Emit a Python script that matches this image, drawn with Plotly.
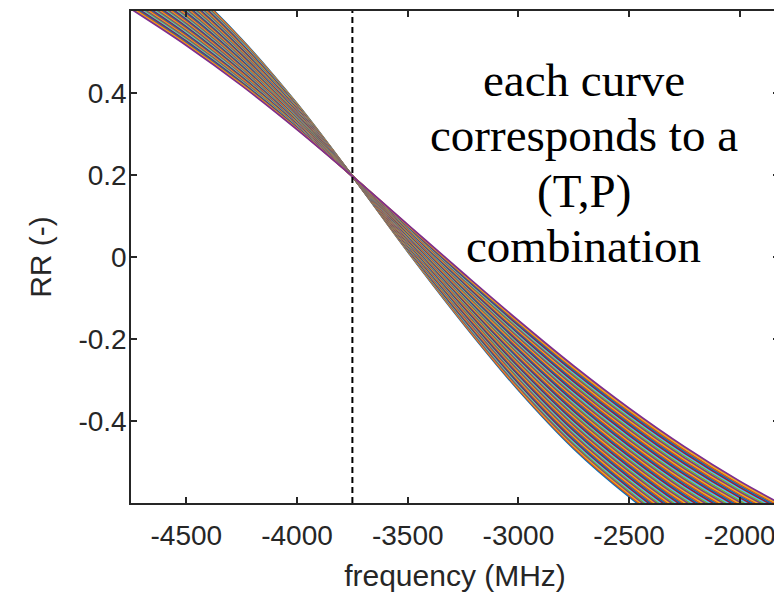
import plotly.graph_objects as go

# ---- data ----
FREQ_MHZ = [-4750, -4500, -4250, -4000, -3750, -3500, -3250, -3000, -2750, -2500, -2250, -2000, -1825]
# steepest curve of the family (upper-left / lower-right edge of the band)
RR_STEEPEST = [0.770, 0.664, 0.531, 0.374, 0.197, 0.013, -0.162, -0.325, -0.468, -0.585, -0.685, -0.760, -0.800]
# shallowest curve of the family (lower-left / upper-right edge of the band)
RR_SHALLOWEST = [0.605, 0.516, 0.418, 0.311, 0.197, 0.079, -0.039, -0.155, -0.266, -0.369, -0.463, -0.547, -0.599]
N_CURVES = 60
MARKER_FREQ = -3750
X_TICKS = [-4500, -4000, -3500, -3000, -2500, -2000]
X_TICK_TEXT = ["-4500", "-4000", "-3500", "-3000", "-2500", "-2000"]
Y_TICKS = [-0.4, -0.2, 0, 0.2, 0.4]
Y_TICK_TEXT = ["-0.4", "-0.2", "0", "0.2", "0.4"]
X_RANGE = [-4750, -1823]
Y_RANGE = [-0.6, 0.6]
NOTE_LINES = ["each curve", "corresponds to a", "(T,P)", "combination"]

MATLAB_COLORS = ["#0072BD", "#D95319", "#EDB120", "#7E2F8E", "#77AC30", "#4DBEEE", "#A2142F"]

fig = go.Figure()
for k in range(N_CURVES):
    t = k / (N_CURVES - 1)
    rr = [(1 - t) * a + t * b for a, b in zip(RR_STEEPEST, RR_SHALLOWEST)]
    fig.add_trace(go.Scatter(
        x=FREQ_MHZ, y=rr, mode="lines",
        line=dict(color=MATLAB_COLORS[k % len(MATLAB_COLORS)], width=1.8, shape="spline"),
        showlegend=False, hoverinfo="skip"))

fig.add_trace(go.Scatter(
    x=[MARKER_FREQ, MARKER_FREQ], y=Y_RANGE, mode="lines",
    line=dict(color="black", width=2, dash="6px,4px"),
    showlegend=False, hoverinfo="skip"))

axis_common = dict(
    showline=True, linecolor="#262626", linewidth=1.5, mirror="ticks",
    ticks="inside", ticklen=6, tickwidth=1.5, tickcolor="#262626",
    showgrid=False, zeroline=False,
    tickfont=dict(family="Liberation Sans, Arial", size=28, color="#262626"),
)

# page body has an 8px default margin; the figure is offset by 8px
fig.update_layout(
    width=774, height=584,
    margin=dict(l=123, r=1, t=1, b=89),
    paper_bgcolor="white", plot_bgcolor="white",
    xaxis=dict(range=X_RANGE, tickvals=X_TICKS, ticktext=X_TICK_TEXT,
               ticklabelstandoff=7,
               title=dict(text="frequency (MHz)", standoff=17,
                          font=dict(family="Liberation Sans, Arial", size=30, color="#262626")),
               **axis_common),
    yaxis=dict(range=Y_RANGE, tickvals=Y_TICKS, ticktext=Y_TICK_TEXT,
               ticklabelstandoff=-3,
               title=dict(text="RR (-)", standoff=18,
                          font=dict(family="Liberation Sans, Arial", size=30, color="#262626")),
               **axis_common),
)

note_y_px = [78, 134, 189.5, 245]
for line, ypx in zip(NOTE_LINES, note_y_px):
    fig.add_annotation(
        xref="paper", yref="paper",
        x=(585 - 131) / 650, y=(503 - ypx) / 494,
        text=line, showarrow=False, xanchor="center", yanchor="middle",
        font=dict(family="Liberation Serif, Times New Roman", size=47, color="black"))

fig.write_html("out.html")
